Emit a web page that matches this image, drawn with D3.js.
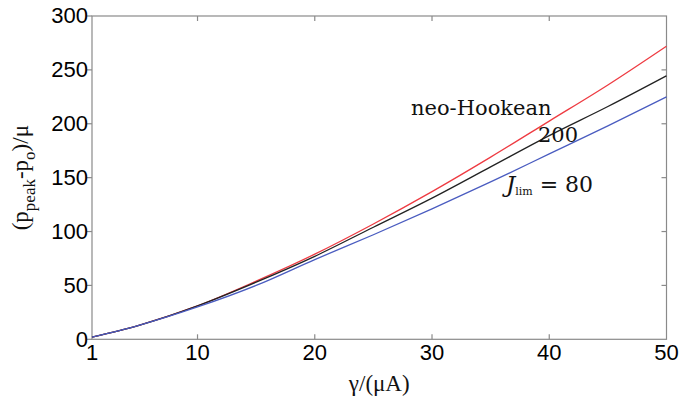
<!DOCTYPE html>
<html>
<head>
<meta charset="utf-8">
<script src="https://cdn.jsdelivr.net/npm/d3@7"></script>
<style>
  body { margin: 0; background: #fff; }
  svg { display: block; }
</style>
</head>
<body>
<div id="chart"></div>
<script>
// values
const gamma = [1, 5, 10, 15, 20, 25, 30, 35, 40, 45, 50];
const neoHookean = [2, 13, 31, 54, 79, 107, 137, 169, 202.5, 236, 272];
const jlim200 = [2, 13, 31, 53, 77, 104, 131, 160, 189, 216, 244.5];
const jlim80 = [2, 13, 30, 50, 74, 97, 121, 146, 172, 198, 225];

const xTicks = [1, 10, 20, 30, 40, 50];
const yTicks = [0, 50, 100, 150, 200, 250, 300];

const width = 679;
const height = 400;
const margin = { top: 16, right: 12.5, bottom: 60.7, left: 92 };

const svg = d3.select("#chart")
    .append("svg")
    .attr("width", width)
    .attr("height", height);

const x = d3.scaleLinear()
    .domain([1, 50])
    .range([margin.left, width - margin.right]);

const y = d3.scaleLinear()
    .domain([0, 300])
    .range([height - margin.bottom, margin.top]);

const axisColor = "#8a8a8a";

// box
svg.append("rect")
    .attr("x", x(1))
    .attr("y", y(300))
    .attr("width", x(50) - x(1))
    .attr("height", y(0) - y(300))
    .attr("fill", "none")
    .attr("stroke", axisColor)
    .attr("stroke-width", 1.2);

// ticks: bottom and top inside, right inside, left outside
const tickLen = 5;
const g = svg.append("g").attr("stroke", axisColor).attr("stroke-width", 1.2);
xTicks.slice(1, -1).forEach(t => {
    g.append("line").attr("x1", x(t)).attr("x2", x(t)).attr("y1", y(0)).attr("y2", y(0) - tickLen);
    g.append("line").attr("x1", x(t)).attr("x2", x(t)).attr("y1", y(300)).attr("y2", y(300) + tickLen);
});
yTicks.forEach(t => {
    g.append("line").attr("x1", x(1) - tickLen).attr("x2", x(1)).attr("y1", y(t)).attr("y2", y(t));
});
yTicks.slice(1, -1).forEach(t => {
    g.append("line").attr("x1", x(50)).attr("x2", x(50) - tickLen).attr("y1", y(t)).attr("y2", y(t));
});

// tick labels
svg.append("g")
    .selectAll("text")
    .data(yTicks)
    .enter().append("text")
    .attr("x", x(1) - 4)
    .attr("y", d => y(d))
    .attr("dy", "0.33em")
    .attr("text-anchor", "end")
    .attr("font-family", "Liberation Sans, Arial, sans-serif")
    .attr("font-size", "22px")
    .attr("fill", "#000")
    .text(d => d);

svg.append("g")
    .selectAll("text")
    .data(xTicks)
    .enter().append("text")
    .attr("x", d => x(d))
    .attr("y", y(0) + 21)
    .attr("text-anchor", "middle")
    .attr("font-family", "Liberation Sans, Arial, sans-serif")
    .attr("font-size", "22px")
    .attr("fill", "#000")
    .text(d => d);

// axis titles
svg.append("text")
    .attr("x", (x(1) + x(50)) / 2)
    .attr("y", 391)
    .attr("text-anchor", "middle")
    .attr("font-family", "Liberation Serif, Times New Roman, serif")
    .attr("font-size", "23px")
    .attr("fill", "#111")
    .text("γ/(μA)");

const yl = svg.append("text")
    .attr("transform", `translate(28,${(y(0) + y(300)) / 2}) rotate(-90)`)
    .attr("text-anchor", "middle")
    .attr("font-family", "Liberation Serif, Times New Roman, serif")
    .attr("font-size", "23px")
    .attr("fill", "#111");
yl.append("tspan").text("(p");
yl.append("tspan").attr("dy", 7).attr("font-size", "17px").text("peak");
yl.append("tspan").attr("dy", -7).text("-p");
yl.append("tspan").attr("dy", 7).attr("font-size", "17px").text("o");
yl.append("tspan").attr("dy", -7).text(")/μ");

// curves
const series = [
    { name: "neo-Hookean", values: neoHookean, color: "#ee3b42" },
    { name: "200", values: jlim200, color: "#222222" },
    { name: "80", values: jlim80, color: "#4a5cc0" }
];

const line = d3.line()
    .x((d, i) => x(gamma[i]))
    .y(d => y(d))
    .curve(d3.curveMonotoneX);

svg.append("g")
    .selectAll("path")
    .data(series)
    .enter().append("path")
    .attr("d", d => line(d.values))
    .attr("fill", "none")
    .attr("stroke", d => d.color)
    .attr("stroke-width", 1.3);

// curve labels
const serif = "DejaVu Serif, Liberation Serif, serif";
svg.append("text")
    .attr("x", 411).attr("y", 115)
    .attr("font-family", serif).attr("font-size", "21px").attr("fill", "#111")
    .text("neo-Hookean");

svg.append("text")
    .attr("x", 538).attr("y", 142)
    .attr("font-family", serif).attr("font-size", "21px").attr("fill", "#111")
    .text("200");

const jl = svg.append("text")
    .attr("x", 506).attr("y", 192)
    .attr("font-family", serif).attr("font-size", "22px").attr("fill", "#111");
jl.append("tspan").attr("font-style", "italic").attr("font-size", "23px").text("J");
jl.append("tspan").attr("dy", 3).attr("font-size", "11px").text("lim");
jl.append("tspan").attr("dy", -3).text(" = 80");
</script>
</body>
</html>
